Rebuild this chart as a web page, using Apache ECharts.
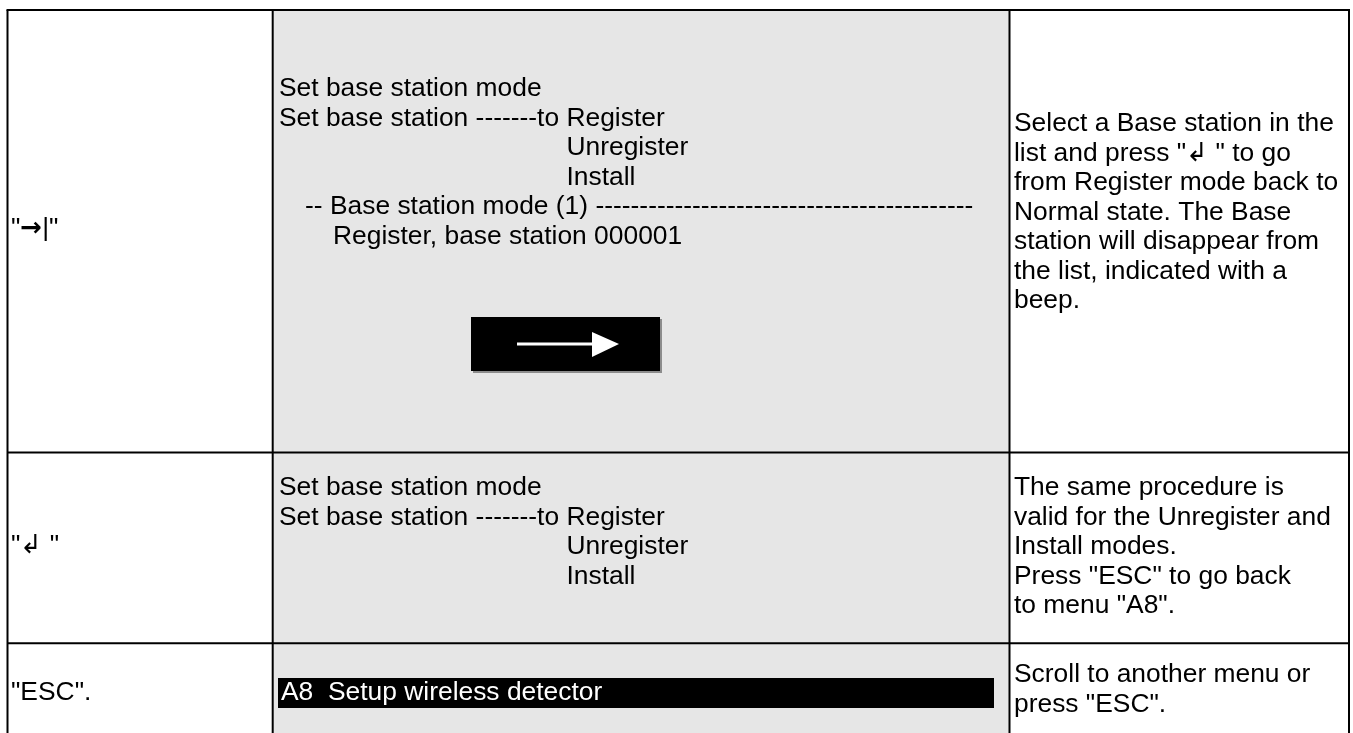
<!DOCTYPE html>
<html>
<head>
<meta charset="utf-8">
<script src="https://cdn.jsdelivr.net/npm/echarts/dist/echarts.min.js"></script>
<style>
html,body{margin:0;padding:0;background:#ffffff;}
#c{width:1353px;height:733px;}
</style>
</head>
<body>
<div id="c"></div>
<script>
// ---------------- data (text content) ----------------
const keyLabels = ['"{arw|→}|"', '"↲ "', '"ESC".'];
const screenRow1 = [
  'Set base station mode',
  'Set base station -------to Register',
  'Unregister',
  'Install',
  '-- Base station mode (1) -------------------------------------------',
  'Register, base station 000001'
];
const screenRow2 = [
  'Set base station mode',
  'Set base station -------to Register',
  'Unregister',
  'Install'
];
const screenRow3 = ['A8  Setup wireless detector'];
const descRow1 = [
  'Select a Base station in the',
  'list and press "↲ " to go',
  'from Register mode back to',
  'Normal state. The Base',
  'station will disappear from',
  'the list, indicated with a',
  'beep.'
];
const descRow2 = [
  'The same procedure is',
  'valid for the Unregister and',
  'Install modes.',
  'Press "ESC" to go back',
  'to menu "A8".'
];
const descRow3 = ['Scroll to another menu or', 'press "ESC".'];

// ---------------- layout / style ----------------
const W = 1353, H = 733;
const FONT = "26.4px 'Liberation Sans', Arial, Helvetica, sans-serif";
const ARROW_FONT = "bold 26px 'DejaVu Sans', sans-serif";
const GRAY = '#e6e6e6';
const X0 = 7.5, XC1 = 272.7, XC2 = 1009.5, X1 = 1349;
const Y0 = 10, YR1 = 452.5, YR2 = 643.3, Y1 = 745;
const LH = 29.5;          // line spacing
const MID = 9.1;          // baseline -> middle offset
const TX_KEY = 11, TX_MID = 279, TX_DESC = 1014;

const measure = document.createElement('canvas').getContext('2d');
measure.font = FONT;
const tw = s => measure.measureText(s).width;

function txt(s, x, baseline, fill) {
  return {
    type: 'text', x: x, y: baseline - MID, z: 20,
    style: {
      text: s, font: FONT, fill: fill || '#000',
      textAlign: 'left', textVerticalAlign: 'middle',
      align: 'left', verticalAlign: 'middle',
      rich: { arw: { font: ARROW_FONT, fill: fill || '#000' } }
    }
  };
}
function ln(x1, y1, x2, y2) {
  return { type: 'line', z: 30, shape: {x1, y1, x2, y2}, style: {stroke: '#000', lineWidth: 2} };
}
function rect(x, y, w, h, fill, z) {
  return { type: 'rect', z: z || 5, shape: {x, y, width: w, height: h}, style: {fill: fill} };
}

const els = [];
// background of the screen column
els.push(rect(XC1, Y0, XC2 - XC1, Y1 - Y0, GRAY, 1));

// register column alignment (aligned to the start of "Register")
const regX = TX_MID + tw(screenRow1[1].slice(0, screenRow1[1].indexOf('Register')));

// row 1 : screen text
const r1x = [TX_MID, TX_MID, regX, regX, 305, 333];
const r1Base = 98;
screenRow1.forEach((s, i) => els.push(txt(s, r1x[i], r1Base + i * LH)));
// arrow key box
els.push(rect(473, 319, 189, 54, '#8c8c8c', 6));
els.push(rect(471, 317, 189, 54, '#000000', 7));
els.push(rect(517, 342.5, 78, 3, '#ffffff', 8));
els.push({ type: 'polygon', z: 9, shape: {points: [[592, 332], [592, 357], [619, 344]]}, style: {fill: '#ffffff'} });

// row 2 : screen text
const r2x = [TX_MID, TX_MID, regX, regX];
const r2Base = 497;
screenRow2.forEach((s, i) => els.push(txt(s, r2x[i], r2Base + i * LH)));

// row 3 : highlighted menu bar
els.push(rect(278, 678, 716, 30, '#000000', 7));
screenRow3.forEach((s, i) => els.push(txt(s, 281, 702 + i * LH, '#ffffff')));

// key labels
const keyBase = [238, 555, 702];
keyLabels.forEach((s, i) => els.push(txt(s, TX_KEY, keyBase[i])));

// descriptions
const d1Base = 133, d2Base = 497, d3Base = 684;
descRow1.forEach((s, i) => els.push(txt(s, TX_DESC, d1Base + i * LH)));
descRow2.forEach((s, i) => els.push(txt(s, TX_DESC, d2Base + i * LH)));
descRow3.forEach((s, i) => els.push(txt(s, TX_DESC, d3Base + i * LH)));

// grid lines
els.push(ln(X0 - 1, Y0, X1 + 1, Y0));
els.push(ln(X0, Y0, X0, Y1));
els.push(ln(X1, Y0, X1, Y1));
els.push(ln(XC1, Y0, XC1, Y1));
els.push(ln(XC2, Y0, XC2, Y1));
els.push(ln(X0, YR1, X1, YR1));
els.push(ln(X0, YR2, X1, YR2));

const chart = echarts.init(document.getElementById('c'), null, {renderer: 'canvas', width: W, height: H});
chart.setOption({
  backgroundColor: '#ffffff',
  animation: false,
  graphic: { elements: els }
});
</script>
</body>
</html>
